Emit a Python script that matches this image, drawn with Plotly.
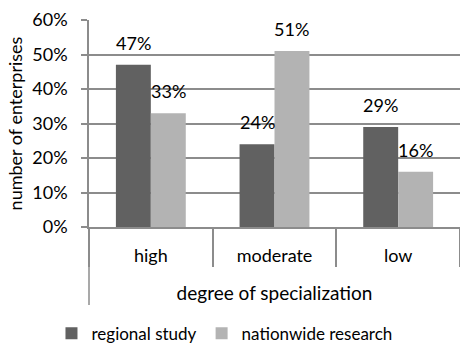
import plotly.graph_objects as go

# Share of enterprises by degree of specialization
categories = ["high", "moderate", "low"]
regional_study = [47, 24, 29]
nationwide_research = [33, 51, 16]
series_names = ["regional study", "nationwide research"]
y_ticks = [0, 10, 20, 30, 40, 50, 60]

DARK = "#616161"
LIGHT = "#b3b3b3"
GRID = "#8c8c8c"
FONT = "Lato"
BARGAP = 0.435

fig = go.Figure()
fig.add_trace(go.Bar(x=categories, y=regional_study, name=series_names[0],
                     marker=dict(color=DARK, line=dict(width=0))))
fig.add_trace(go.Bar(x=categories, y=nationwide_research, name=series_names[1],
                     marker=dict(color=LIGHT, line=dict(width=0))))

# value labels above each bar, offset to the bar's slot within its group
half = (1 - BARGAP) / 4
for values, off in ((regional_study, -half), (nationwide_research, half)):
    for i, v in enumerate(values):
        fig.add_annotation(x=i + off, y=v, xref="x", yref="y", text=f"{v}%",
                           showarrow=False, yshift=22, yanchor="middle",
                           font=dict(family=FONT, size=18, color="#000000"))

# long left rule continuing below the category labels
fig.add_shape(type="line", xref="paper", yref="paper", x0=0, x1=0, y0=0, y1=-0.377,
              line=dict(color=GRID, width=1.5))

fig.update_layout(
    width=460, height=344,
    margin=dict(l=89, r=0, t=20, b=117),
    paper_bgcolor="white", plot_bgcolor="white",
    barmode="group", bargap=BARGAP, bargroupgap=0,
    font=dict(family=FONT, size=18, color="#000000"),
    showlegend=True,
    legend=dict(orientation="h", xref="container", yref="container",
                x=0.488, xanchor="center", y=0.03, yanchor="middle",
                font=dict(family=FONT, size=17), itemwidth=30,
                bgcolor="rgba(0,0,0,0)"),
    xaxis=dict(
        type="category", showgrid=False, zeroline=False,
        showline=True, linecolor=GRID, linewidth=1.5,
        ticks="outside", tickson="boundaries", ticklen=38, tickwidth=1.5, tickcolor=GRID,
        ticklabelstandoff=12,
        title=dict(text="degree of specialization", standoff=21,
                   font=dict(family=FONT, size=19)),
    ),
    yaxis=dict(
        range=[0, 60], tickvals=y_ticks, ticktext=[f"{t}%" for t in y_ticks],
        showgrid=True, gridcolor=GRID, gridwidth=1.5, zeroline=False,
        showline=True, linecolor=GRID, linewidth=1.5,
        ticks="outside", ticklen=6, tickwidth=1.5, tickcolor=GRID,
        ticklabelstandoff=10,
        title=dict(text="number of enterprises", standoff=5,
                   font=dict(family=FONT, size=18)),
    ),
)

fig.write_html("out.html")
